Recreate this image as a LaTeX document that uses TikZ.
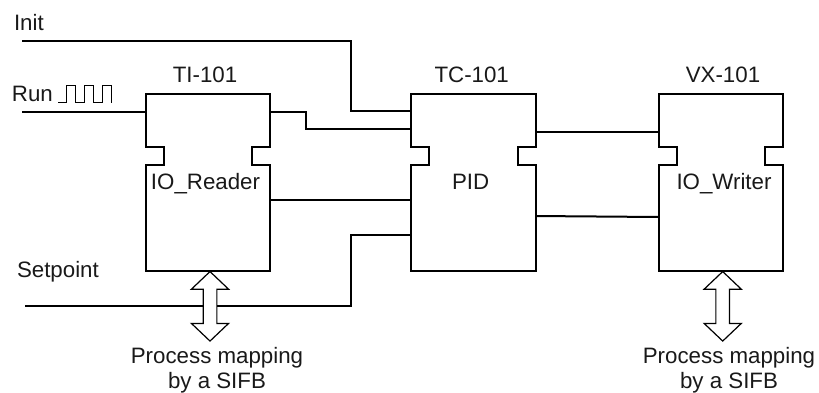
\documentclass[tikz,border=0pt]{standalone}
\usepackage{fontspec}
\setmainfont{Liberation Sans}
\usetikzlibrary{shapes.arrows, positioning}

\newcommand{\fbblock}[1]{%
  \draw[blockline] (#1.north west) -- (#1.north east) -- ++(0,52.5) -- ++(-18,0) -- ++(0,18) -- ++(18,0)
    -- (#1.south east) -- (#1.south west) -- ++(0,-106.5) -- ++(18,0) -- ++(0,-18) -- ++(-18,0) -- cycle;}

\begin{document}
\begin{tikzpicture}[
  x=1pt, y=-1pt,
  every node/.style={font=\fontsize{22.3}{25.4}\selectfont, text=black!90, inner sep=0pt, outer sep=0pt},
  block/.style={minimum width=124.5pt, minimum height=177pt},
  blockline/.style={line width=2pt, line join=miter},
  wire/.style={line width=2pt},
  txt/.style={anchor=base},
  txtleft/.style={anchor=base west},
  mapping/.style={align=center},
  pulse/.style={line width=1pt},
  sifbarrow/.style={draw, fill=white, line width=1.2pt, shape=double arrow, rotate=90, inner ysep=6.25pt,
    minimum height=69.5pt, minimum width=36pt, double arrow head extend=11.75pt,
    double arrow head indent=0pt, double arrow tip angle=93},
]
  \useasboundingbox (0,0) rectangle (819,392);

  % function blocks
  \node[block] (ti) at (208,182.5) {};
  \node[block] (tc) at (473.35,182.5) {};
  \node[block] (vx) at (721.15,182.5) {};
  \fbblock{ti}
  \fbblock{tc}
  \fbblock{vx}

  \node[txt] (titype) at (205.5,189) {IO\_Reader};
  \node[txt] (tctype) at (470.7,189) {PID};
  \node[txt] (vxtype) at (724,189) {IO\_Writer};

  \node[txt] (titag) at (205,82.7) {TI-101};
  \node[txt] (tctag) at (471.7,82.7) {TC-101};
  \node[txt] (vxtag) at (723,82.7) {VX-101};

  % free ends of the inputs
  \coordinate (initin) at (22,41);
  \coordinate (runin) at (22,111.5);
  \coordinate (setin) at (25,306);

  \node[txtleft] (initlabel) at (14,30) {Init};
  \node[txtleft] (runlabel) at (12,101) {Run};
  \node[txtleft] (setlabel) at (17,277.7) {Setpoint};

  \draw[wire] (initin) -- (350.5,41) -- (350.5,111) -- (tc.west |- 0,111);
  \draw[wire] (runin) -- (ti.west |- runin);
  \draw[wire] (ti.east |- 0,111.5) -- (305.5,111.5) -- (305.5,129) -- (tc.west |- 0,129);
  \draw[wire] (ti.east |- 0,200) -- (tc.west |- 0,200);
  \draw[wire] (setin) -- (351,306) -- (351,235) -- (tc.west |- 0,235);
  \draw[wire] (tc.east |- 0,131.7) -- (vx.west |- 0,131.7);
  \draw[wire] (tc.east |- 0,216) -- (vx.west |- 0,217);

  \draw[pulse] (58.3,102.7) -- (66.7,102.7) -- (66.7,85) -- (75,85) -- (75,102.7) -- (84,102.7) -- (84,85)
    -- (93,85) -- (93,102.7) -- (102,102.7) -- (102,85) -- (111,85) -- (111,102.7);

  % process mapping
  \node[sifbarrow] (tiarrow) at (210,306.3) {};
  \node[sifbarrow] (vxarrow) at (722.7,306.3) {};
  \node[mapping] (timap) at (217,370) {Process mapping\\by a SIFB};
  \node[mapping] (vxmap) at (729,370) {Process mapping\\by a SIFB};
\end{tikzpicture}
\end{document}
